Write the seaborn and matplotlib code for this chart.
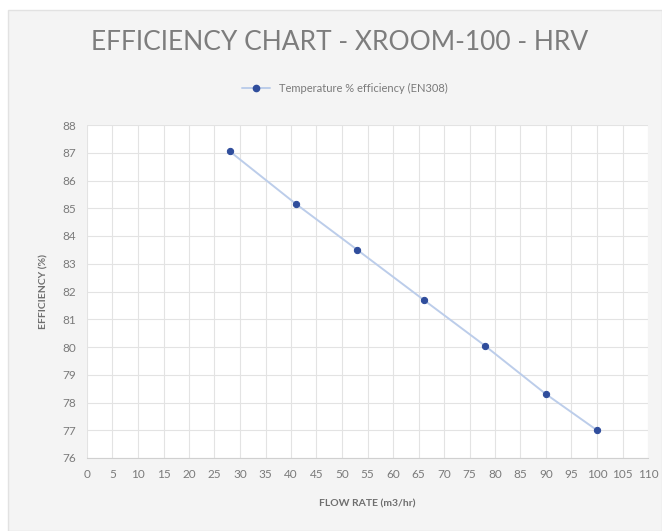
import matplotlib
matplotlib.use("Agg")
from matplotlib import pyplot as plt
from matplotlib.patches import Rectangle
from matplotlib.lines import Line2D
import seaborn as sns
import pandas as pd

flow_rate = [28, 41, 53, 66, 78, 90, 100]
efficiency = [87.05, 85.15, 83.5, 81.7, 80.05, 78.3, 77.0]
x_ticks = list(range(0, 111, 5))
y_ticks = list(range(76, 89))
series_name = "Temperature % efficiency (EN308)"

df = pd.DataFrame({"flow": flow_rate, "eff": efficiency})

sns.set_style("white")
plt.rcParams["font.family"] = ["Lato", "DejaVu Sans"]

fig = plt.figure(figsize=(6.62, 5.31), dpi=100, facecolor="white")
fig.patches.append(Rectangle((8 / 662, 0), 1 - 8 / 662, 1 - 10 / 531, transform=fig.transFigure,
                             facecolor="#f4f4f4", edgecolor="#e2e2e2", lw=1, zorder=-10))
ax = fig.add_axes([87 / 662, 1 - 458 / 531, (648 - 87) / 662, (458 - 125) / 531])
ax.set_facecolor("white")

line_col = "#bccdea"
mark_col = "#2f4d9c"
sns.lineplot(data=df, x="flow", y="eff", ax=ax, color=line_col, lw=1.4,
             marker="o", markersize=4.5, markerfacecolor=mark_col, markeredgecolor=mark_col,
             zorder=3)

ax.set_xlim(0, 110)
ax.set_ylim(76, 88)
ax.set_xticks(x_ticks)
ax.set_yticks(y_ticks)
ax.grid(True, color="#e3e3e3", lw=0.8)
for s in ["top", "right", "left"]:
    ax.spines[s].set_visible(False)
ax.spines["bottom"].set_color("#d0d0d0")
ax.tick_params(axis="both", length=0, colors="#7a7a7a", labelsize=8.5, pad=8)

ax.set_xlabel("FLOW RATE (m3/hr)", fontsize=7.5, fontweight="bold", color="#6e6e6e", labelpad=14)
ax.set_ylabel("EFFICIENCY (%)", fontsize=7.5, fontweight="bold", color="#6e6e6e", labelpad=10)

fig.text(340 / 662, 1 - 43 / 531, "EFFICIENCY CHART - XROOM-100 - HRV", ha="center", va="center",
         fontsize=19, color="#7d7d7d")

handle = Line2D([], [], color=line_col, lw=1.4, marker="o", markersize=4.5,
                markerfacecolor=mark_col, markeredgecolor=mark_col)
fig.legend([handle], [series_name], loc="center", bbox_to_anchor=(345 / 662, 1 - 88 / 531),
           frameon=False, fontsize=8, labelcolor="#7a7a7a", handlelength=2.5)

fig.savefig("out.png", dpi=100, facecolor=fig.get_facecolor())
